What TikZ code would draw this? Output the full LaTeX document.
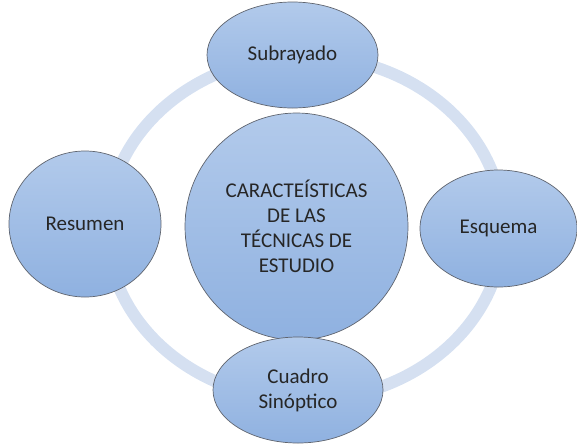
\documentclass[tikz,border=0pt]{standalone}
\usepackage{fontspec}
\setmainfont{Carlito}
\usetikzlibrary{shapes.geometric}

\definecolor{ringblue}{RGB}{213,224,241}
\definecolor{topblue}{RGB}{178,202,235}
\definecolor{botblue}{RGB}{143,177,224}
\definecolor{edgegray}{RGB}{95,100,110}
\definecolor{txtgray}{RGB}{38,38,38}

\begin{document}
\begin{tikzpicture}[x=1pt,y=-1pt,
  bubble/.style={ellipse,draw=edgegray,line width=0.7pt,top color=topblue,bottom color=botblue,
    inner sep=0pt,align=center,text=txtgray,font=\fontsize{21}{25}\selectfont}]

\useasboundingbox (0,0) rectangle (577,445);

\coordinate (M) at (296.5,226.5);
\coordinate (T) at (292.5,55);
\coordinate (L) at (85,224);
\coordinate (R) at (498.5,228.5);
\coordinate (B) at (298,390);

\draw[ringblue,line width=12pt] (305,228) ellipse [x radius=198,y radius=172];

\node[bubble,minimum width=223pt,minimum height=227pt] (centro) at (M) {CARACTEÍSTICAS\\DE LAS\\TÉCNICAS DE\\ESTUDIO};

\node[bubble,minimum width=171pt,minimum height=106pt] (subrayado) at (T) {Subrayado};
\node[bubble,minimum width=152pt,minimum height=146pt] (resumen) at (L) {Resumen};
\node[bubble,minimum width=157pt,minimum height=117pt] (esquema) at (R) {Esquema};
\node[bubble,minimum width=170pt,minimum height=106pt] (cuadro) at (B) {Cuadro\\Sinóptico};

\end{tikzpicture}
\end{document}
